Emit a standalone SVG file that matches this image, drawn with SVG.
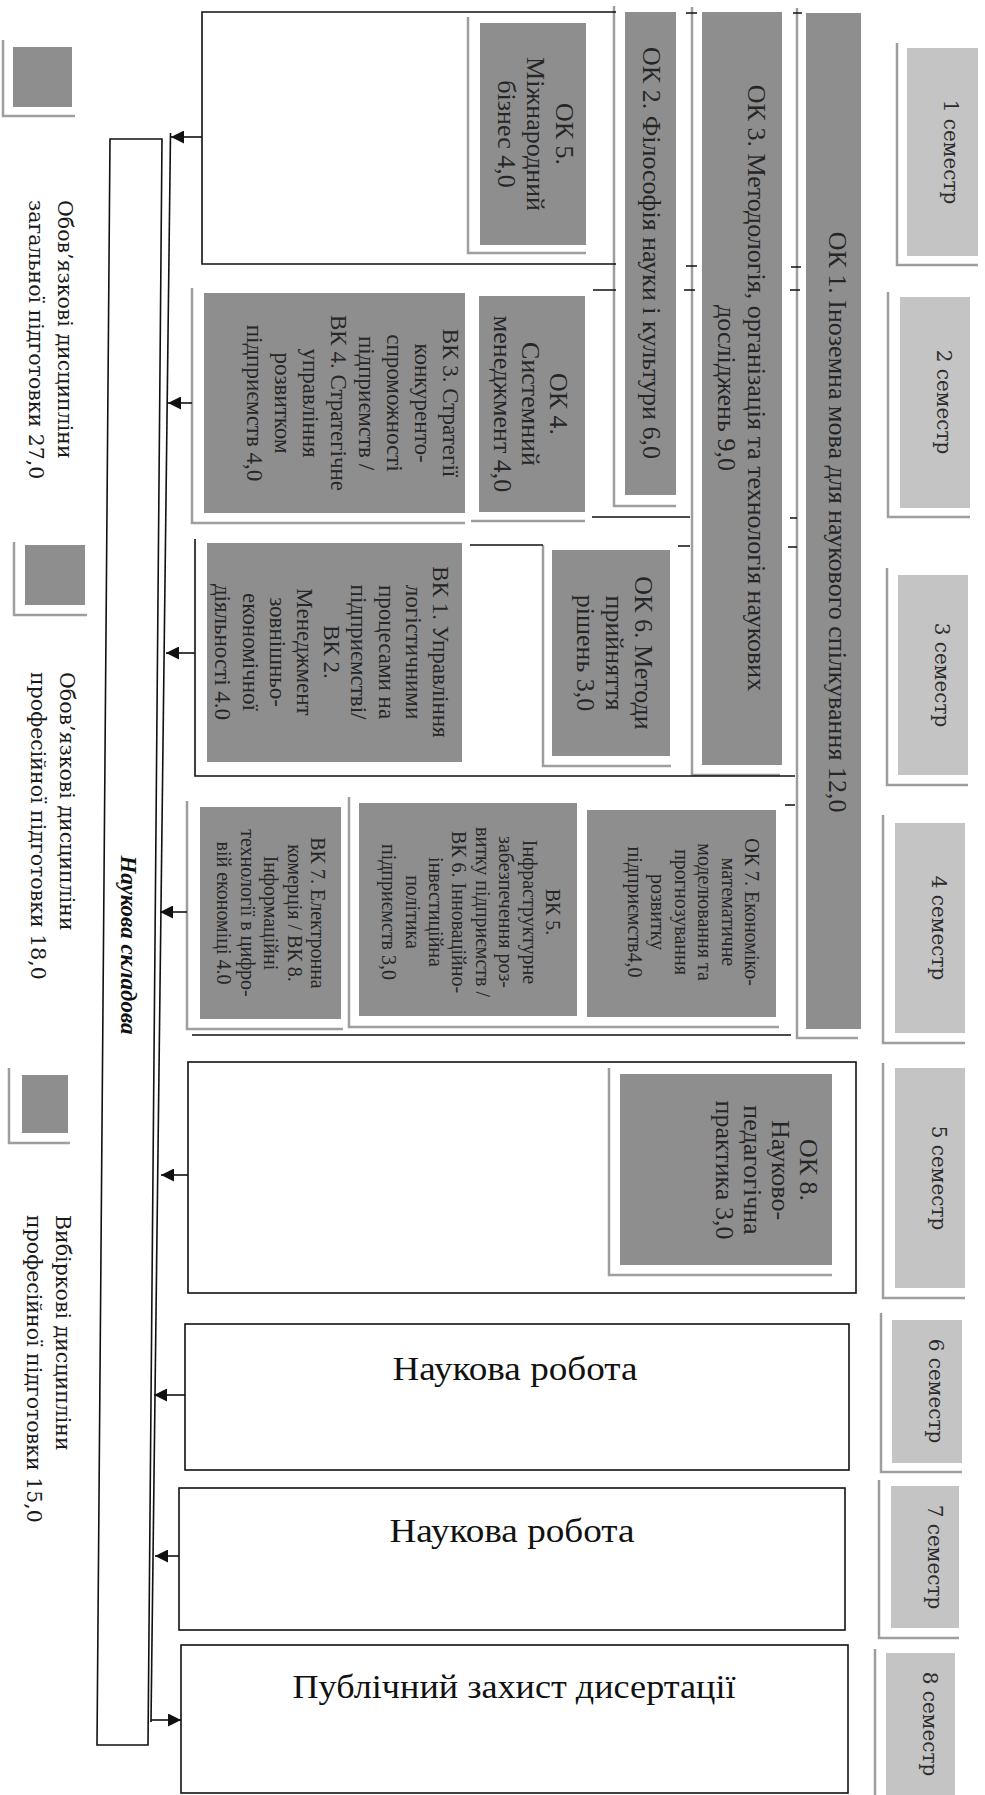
<svg xmlns="http://www.w3.org/2000/svg" width="985" height="1795" viewBox="0 0 985 1795">
<style>
.sem{fill:#c4c4c4}
.box{fill:#8e8e8e}
.sh{fill:none;stroke:#9e9e9e;stroke-width:2.5}
.ln{fill:none;stroke:#111;stroke-width:1.6}
.fr{fill:#fff;stroke:#111;stroke-width:1.6}
.st{font-family:"DejaVu Serif",serif;font-size:20px;fill:#2c2c2c;text-anchor:middle}
.lg{font-family:"DejaVu Serif",serif;font-size:20.5px;fill:#1a1a1a}
.t26{font-family:"Liberation Serif",serif;font-size:26px;fill:#262626;text-anchor:middle}
.t23{font-family:"Liberation Serif",serif;font-size:23px;fill:#262626;text-anchor:middle}
.t20{font-family:"Liberation Serif",serif;font-size:20px;fill:#262626;text-anchor:middle}
.big{font-family:"Liberation Serif",serif;font-size:34px;fill:#111;text-anchor:middle}
.ns{font-family:"Liberation Serif",serif;font-size:23px;font-weight:bold;font-style:italic;fill:#111;text-anchor:middle}
</style>
<defs>
<marker id="ah" viewBox="0 0 10 10" refX="10" refY="5" markerWidth="15" markerHeight="13" markerUnits="userSpaceOnUse" orient="auto"><path d="M0,0 L10,5 L0,10 z" fill="#111"/></marker>
</defs>
<rect width="985" height="1795" fill="#fff"/>

<!-- semesters -->
<g id="sem1"><path class="sh" d="M897,43 V265 H978"/><rect class="sem" x="907" y="48" width="71" height="208"/><text class="st" transform="translate(944,152) rotate(90)">1 семестр</text></g>
<g id="sem2"><path class="sh" d="M888,292 V517 H970"/><rect class="sem" x="900" y="297" width="70" height="211"/><text class="st" transform="translate(937,402) rotate(90)">2 семестр</text></g>
<g id="sem3"><path class="sh" d="M887,568 V785 H968"/><rect class="sem" x="898" y="575" width="70" height="200"/><text class="st" transform="translate(935,675) rotate(90)">3 семестр</text></g>
<g id="sem4"><path class="sh" d="M883,815 V1043 H965"/><rect class="sem" x="895" y="823" width="70" height="210"/><text class="st" transform="translate(932,928) rotate(90)">4 семестр</text></g>
<g id="sem5"><path class="sh" d="M883,1063 V1298 H965"/><rect class="sem" x="895" y="1068" width="70" height="220"/><text class="st" transform="translate(932,1178) rotate(90)">5 семестр</text></g>
<g id="sem6"><path class="sh" d="M881,1313 V1472 H962"/><rect class="sem" x="892" y="1320" width="70" height="143"/><text class="st" transform="translate(929,1391) rotate(90)">6 семестр</text></g>
<g id="sem7"><path class="sh" d="M879,1480 V1638 H959"/><rect class="sem" x="891" y="1486" width="68" height="142"/><text class="st" transform="translate(928,1557) rotate(90)">7 семестр</text></g>
<g id="sem8"><path class="sh" d="M875,1649 V1795"/><rect class="sem" x="886" y="1653" width="69" height="142"/><text class="st" transform="translate(923,1724) rotate(90)">8 семестр</text></g>

<!-- legend -->
<g id="legend1"><path class="sh" d="M3,40 V116 H75"/><rect class="box" x="13" y="47" width="59" height="60"/>
<text class="lg" transform="translate(58,200) rotate(90)"><tspan x="0" y="0">Обов’язкові дисципліни</tspan><tspan x="0" dy="29">загальної підготовки 27,0</tspan></text></g>
<g id="legend2"><path class="sh" d="M14,542 V615 H87"/><rect class="box" x="25" y="545" width="60" height="60"/>
<text class="lg" transform="translate(60,672) rotate(90)"><tspan x="0" y="0">Обов’язкові дисципліни</tspan><tspan x="0" dy="29">професійної підготовки 18,0</tspan></text></g>
<g id="legend3"><path class="sh" d="M9,1068 V1143 H70"/><rect class="box" x="22" y="1075" width="46" height="58"/>
<text class="lg" transform="translate(56,1215) rotate(90)"><tspan x="0" y="0">Вибіркові дисципліни</tspan><tspan x="0" dy="29">професійної підготовки 15,0</tspan></text></g>

<!-- frames -->
<g id="frame-ok8"><rect class="fr" x="188" y="1062" width="668" height="231"/></g>
<g id="work6"><rect class="fr" x="185" y="1324" width="664" height="146"/><text class="big" x="515" y="1380" textLength="245" lengthAdjust="spacingAndGlyphs">Наукова робота</text></g>
<g id="work7"><rect class="fr" x="179" y="1488" width="666" height="142"/><text class="big" x="512" y="1542" textLength="245" lengthAdjust="spacingAndGlyphs">Наукова робота</text></g>
<g id="defense"><rect class="fr" x="181" y="1645" width="667" height="148"/><text class="big" x="514" y="1698" textLength="443" lengthAdjust="spacingAndGlyphs">Публічний захист дисертації</text></g>
<g id="science"><path class="fr" d="M110,139 H162 L148,1745 H97 Z"/><text class="ns" transform="translate(121,945) rotate(90)">Наукова складова</text></g>

<!-- courses -->
<g id="ok1"><path class="sh" d="M797,8 V1038 H858"/><rect class="box" x="806" y="13" width="55" height="1016"/><text class="t26" transform="translate(829,522) rotate(90)">ОК 1. Іноземна мова для наукового спілкування 12,0</text></g>
<g id="ok3"><path class="sh" d="M692,7 V775 H780"/><rect class="box" x="702" y="12" width="80" height="753"/><text class="t26" transform="translate(748,388) rotate(90)"><tspan x="0" y="0">ОК 3. Методологія, організація та технологія наукових</tspan><tspan x="0" dy="30">досліджень 9,0</tspan></text></g>
<g id="ok2"><path class="sh" d="M614,6 V506 H676"/><rect class="box" x="625" y="12" width="51" height="483"/><text class="t26" transform="translate(643,253) rotate(90)">ОК 2. Філософія науки і культури 6,0</text></g>
<g id="ok5"><path class="sh" d="M468,17 V253 H586"/><rect class="box" x="480" y="23" width="106" height="222"/><text class="t26" transform="translate(556,134) rotate(90)"><tspan x="0" y="0">ОК 5.</tspan><tspan x="0" dy="29">Міжнародний</tspan><tspan x="0" dy="29">бізнес 4,0</tspan></text></g>
<g id="ok4"><path class="sh" d="M471,521 H585"/><rect class="box" x="479" y="296" width="106" height="216"/><text class="t26" transform="translate(550,404) rotate(90)"><tspan x="0" y="0">ОК 4.</tspan><tspan x="0" dy="28">Системний</tspan><tspan x="0" dy="28">менеджмент 4,0</tspan></text></g>
<g id="vk3"><path class="sh" d="M192,288 V523 H465"/><rect class="box" x="204" y="293" width="261" height="220"/><text class="t23" transform="translate(443,403) rotate(90)"><tspan x="0" y="0">ВК 3. Стратегії</tspan><tspan x="0" dy="28">конкуренто-</tspan><tspan x="0" dy="28">спроможності</tspan><tspan x="0" dy="28">підприємств /</tspan><tspan x="0" dy="28">ВК 4. Стратегічне</tspan><tspan x="0" dy="28">управління</tspan><tspan x="0" dy="28">розвитком</tspan><tspan x="0" dy="28">підприємств 4,0</tspan></text></g>
<g id="ok6"><path class="sh" d="M543,545 V766 H671"/><rect class="box" x="552" y="550" width="118" height="206"/><text class="t26" transform="translate(635,653) rotate(90)"><tspan x="0" y="0">ОК 6. Методи</tspan><tspan x="0" dy="29">прийняття</tspan><tspan x="0" dy="29">рішень 3,0</tspan></text></g>
<g id="vk1"><rect class="box" x="207" y="543" width="255" height="219"/><text class="t23" transform="translate(433,652) rotate(90)"><tspan x="0" y="0">ВК 1. Управління</tspan><tspan x="0" dy="27.2">логістичними</tspan><tspan x="0" dy="27.2">процесами на</tspan><tspan x="0" dy="27.2">підприємстві/</tspan><tspan x="0" dy="27.2">ВК 2.</tspan><tspan x="0" dy="27.2">Менеджмент</tspan><tspan x="0" dy="27.2">зовнішньо-</tspan><tspan x="0" dy="27.2">економічної</tspan><tspan x="0" dy="27.2">діяльності 4.0</tspan></text></g>
<g id="ok7"><path class="sh" d="M349,797 V1027 H779"/><rect class="box" x="587" y="810" width="189" height="207"/><text class="t20" transform="translate(745,912) rotate(90)"><tspan x="0" y="0">ОК 7. Економіко-</tspan><tspan x="0" dy="23.4">математичне</tspan><tspan x="0" dy="23.4">моделювання та</tspan><tspan x="0" dy="23.4">прогнозування</tspan><tspan x="0" dy="23.4">розвитку</tspan><tspan x="0" dy="23.4">підприємств4,0</tspan></text></g>
<g id="vk5"><rect class="box" x="359" y="803" width="218" height="213"/><text class="t20" transform="translate(546,912) rotate(90)"><tspan x="0" y="0">ВК 5.</tspan><tspan x="0" dy="23.4">Інфраструктурне</tspan><tspan x="0" dy="23.4">забезпечення роз-</tspan><tspan x="0" dy="23.4">витку підприємств /</tspan><tspan x="0" dy="23.4">ВК 6. Інноваційно-</tspan><tspan x="0" dy="23.4">інвестиційна</tspan><tspan x="0" dy="23.4">політика</tspan><tspan x="0" dy="23.4">підприємств 3,0</tspan></text></g>
<g id="vk7"><path class="sh" d="M187,801 V1029 H343"/><rect class="box" x="200" y="807" width="141" height="212"/><text class="t20" transform="translate(311,913) rotate(90)"><tspan x="0" y="0">ВК 7. Електронна</tspan><tspan x="0" dy="23.5">комерція / ВК 8.</tspan><tspan x="0" dy="23.5">Інформаційні</tspan><tspan x="0" dy="23.5">технології в цифро-</tspan><tspan x="0" dy="23.5">вій економіці 4.0</tspan></text></g>
<g id="ok8"><path class="sh" d="M609,1068 V1275 H832"/><rect class="box" x="620" y="1074" width="212" height="191"/><text class="t26" transform="translate(800,1170) rotate(90)"><tspan x="0" y="0">ОК 8.</tspan><tspan x="0" dy="28">Науково-</tspan><tspan x="0" dy="28">педагогічна</tspan><tspan x="0" dy="28">практика 3,0</tspan></text></g>

<!-- connectors -->
<g id="connectors">
<path class="ln" d="M616,12 H202 V264 H616"/>
<path class="ln" d="M593,290 H616 M592,517 H690 M470,545 H543"/>
<path class="ln" d="M195,539 V776 H795"/>
<path class="ln" d="M192,1035 H791"/>
<path class="ln" d="M686,13 H697 M793,13 H802 M686,266 H697 M791,267 H801 M684,290 H695 M790,290 H800 M790,518 H797 M678,546 H690 M788,547 H797 M785,805 H795"/>
<path class="ln" d="M170.5,133 L151,1722"/>
<path class="ln" marker-end="url(#ah)" d="M202,137 H171"/>
<path class="ln" marker-end="url(#ah)" d="M192,403 H168"/>
<path class="ln" marker-end="url(#ah)" d="M195,653 H166"/>
<path class="ln" marker-end="url(#ah)" d="M187,912 H160"/>
<path class="ln" marker-end="url(#ah)" d="M188,1175 H161"/>
<path class="ln" marker-end="url(#ah)" d="M185,1395 H154"/>
<path class="ln" marker-end="url(#ah)" d="M179,1556 H155"/>
<path class="ln" marker-end="url(#ah)" d="M151,1720 H181"/>
</g>
</svg>
